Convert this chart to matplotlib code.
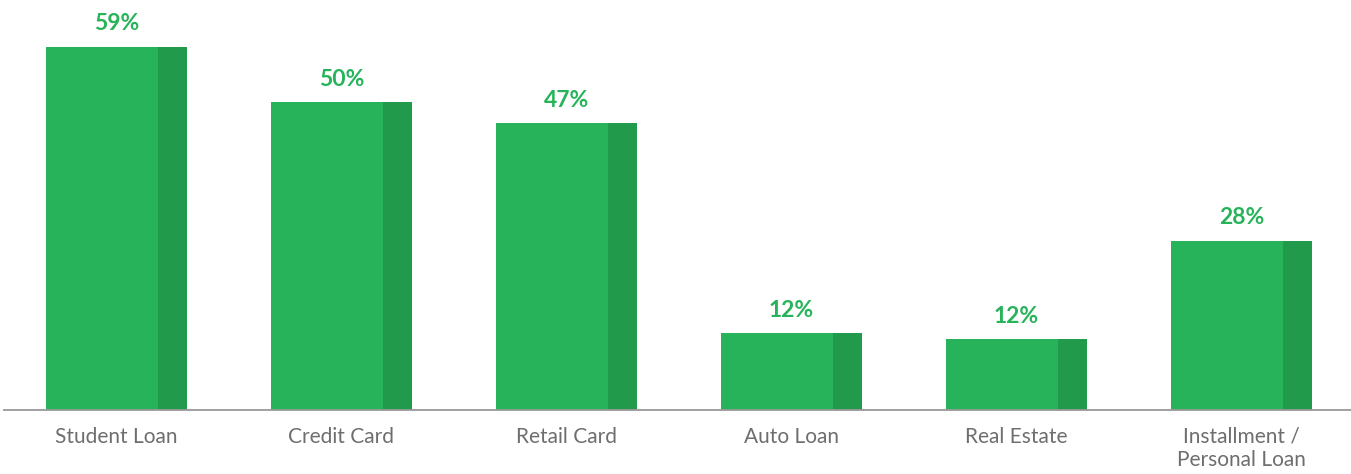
import matplotlib.pyplot as plt
import numpy as np

categories = ["Student Loan", "Credit Card", "Retail Card", "Auto Loan", "Real Estate", "Installment /\nPersonal Loan"]
values = [59, 50, 46.6, 12.5, 11.5, 27.5]
value_labels = ["59%", "50%", "47%", "12%", "12%", "28%"]

main_color = "#27b35a"
dark_color = "#219a4b"
text_color = "#6e6e6e"

plt.rcParams['font.family'] = ['Lato', 'DejaVu Sans']

fig = plt.figure(figsize=(13.51, 4.74), dpi=100)
ax = fig.add_axes([4 / 1351, 64 / 474, 1 - 4 / 1351, 410 / 474])

x = np.arange(len(categories))
full_w = 0.627
dark_w = 0.129
main_w = full_w - dark_w
left = x - full_w / 2

ax.bar(left, values, width=main_w, align='edge', color=main_color, zorder=2)
ax.bar(left + main_w, values, width=dark_w, align='edge', color=dark_color, zorder=2)

for xi, v, lab in zip(x, values, value_labels):
    ax.annotate(lab, (xi, v), xytext=(0, 9), textcoords='offset points',
                ha='center', va='bottom', fontsize=16.5, fontweight='bold', color=main_color)

ax.set_xlim(-0.5, 5.487)
ax.set_ylim(0, 66.6)
ax.set_xticks(x)
ax.set_xticklabels(categories, fontsize=15, color=text_color, linespacing=1.2)
ax.tick_params(axis='x', length=0, pad=12)
ax.set_yticks([])
for s in ['top', 'right', 'left']:
    ax.spines[s].set_visible(False)
ax.spines['bottom'].set_color('#999999')
ax.spines['bottom'].set_linewidth(1.3)
ax.patch.set_alpha(0)

fig.savefig("out.png", dpi=100)
